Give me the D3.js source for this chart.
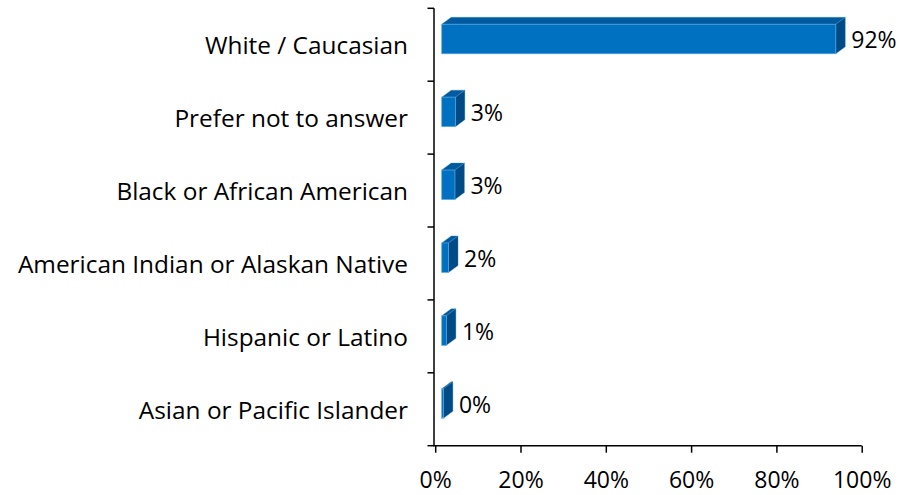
<!DOCTYPE html>
<html>
<head>
<meta charset="utf-8">
<script src="https://cdn.jsdelivr.net/npm/d3@7"></script>
<style>
  html, body { margin: 0; padding: 0; background: #fff; }
  svg text { font-family: "Open Sans", Lato, sans-serif; fill: #000; }
</style>
</head>
<body>
<svg id="chart" width="900" height="495"></svg>
<script>
const categories = [
  "White / Caucasian",
  "Prefer not to answer",
  "Black or African American",
  "American Indian or Alaskan Native",
  "Hispanic or Latino",
  "Asian or Pacific Islander"
];
const values = [92.4, 3.2, 3.1, 1.6, 1.1, 0.4];
const xTicks = [0, 20, 40, 60, 80, 100];

const svg = d3.select("#chart");
const catFont = 24.4;
const numFont = 23;

const x = d3.scaleLinear().domain([0, 100]).range([435.2, 861.7]);
const y = d3.scaleBand().domain(categories).range([8.3, 445.7]).paddingInner(0).paddingOuter(0);

const depthX = 9.5, depthY = 7;
const frontOffset = 6.5;
const faceH = 29.5;

const front = "#0070C0";
const topC = "#005A9E";
const sideC = "#004A86";

const axisColor = "#000";
svg.append("line")
  .attr("x1", 434).attr("x2", 434)
  .attr("y1", y.range()[0]).attr("y2", y.range()[1])
  .attr("stroke", axisColor).attr("stroke-width", 1.5);
const yBounds = categories.map(c => y(c)).concat([y.range()[1]]);
svg.selectAll(".ytick").data(yBounds).enter().append("line")
  .attr("x1", 427.5).attr("x2", 434)
  .attr("y1", d => d).attr("y2", d => d)
  .attr("stroke", axisColor).attr("stroke-width", 1.5);

const xAxis = d3.axisBottom(x).tickValues(xTicks).tickFormat(d => d + "%").tickSize(7).tickSizeOuter(0);
const gx = svg.append("g").attr("transform", `translate(0, ${y.range()[1]})`).call(xAxis);
gx.select(".domain").attr("stroke", axisColor).attr("stroke-width", 1.5)
  .attr("d", `M433.25,0H${x(100)}`);
gx.selectAll(".tick line").attr("stroke", axisColor).attr("stroke-width", 1.5);
gx.selectAll(".tick text")
  .attr("y", 42.5).attr("dy", null)
  .style("font-size", numFont + "px").style("font-family", "'Open Sans', sans-serif").attr("fill", "#000");

const bars = svg.selectAll(".bar").data(categories.map((c, i) => ({c, v: values[i]}))).enter()
  .append("g").attr("class", "bar");

bars.each(function(d) {
  const g = d3.select(this);
  const bc = y(d.c) + y.bandwidth() / 2;
  const x0 = x(0) + frontOffset;
  const w = x(d.v) - x(0);
  const x1 = x0 + w;
  const yt = bc - 20.5;
  const yb = yt + faceH;
  g.append("path")
    .attr("d", `M${x0},${yt}L${x0 + depthX},${yt - depthY}L${x1 + depthX},${yt - depthY}L${x1},${yt}Z`)
    .attr("fill", topC).attr("stroke", "#3d8fd0").attr("stroke-width", 0.6).attr("stroke-opacity", 0.6);
  g.append("path")
    .attr("d", `M${x1},${yt}L${x1 + depthX},${yt - depthY}L${x1 + depthX},${yb - depthY}L${x1},${yb}Z`)
    .attr("fill", sideC).attr("stroke", "#3d8fd0").attr("stroke-width", 0.6).attr("stroke-opacity", 0.6);
  g.append("rect")
    .attr("x", x0).attr("y", yt).attr("width", w).attr("height", faceH)
    .attr("fill", front).attr("stroke", "#5aa7e0").attr("stroke-width", 0.8).attr("stroke-opacity", 0.8);
  g.append("text")
    .attr("x", x1 + depthX + 6)
    .attr("y", bc + 3.5)
    .style("font-size", numFont + "px")
    .text(Math.round(d.v) + "%");
});

svg.selectAll(".cat").data(categories).enter().append("text")
  .attr("x", 408)
  .attr("y", d => y(d) + y.bandwidth() / 2 + 9.5)
  .attr("text-anchor", "end")
  .style("font-size", catFont + "px")
  .text(d => d);
</script>
</body>
</html>
